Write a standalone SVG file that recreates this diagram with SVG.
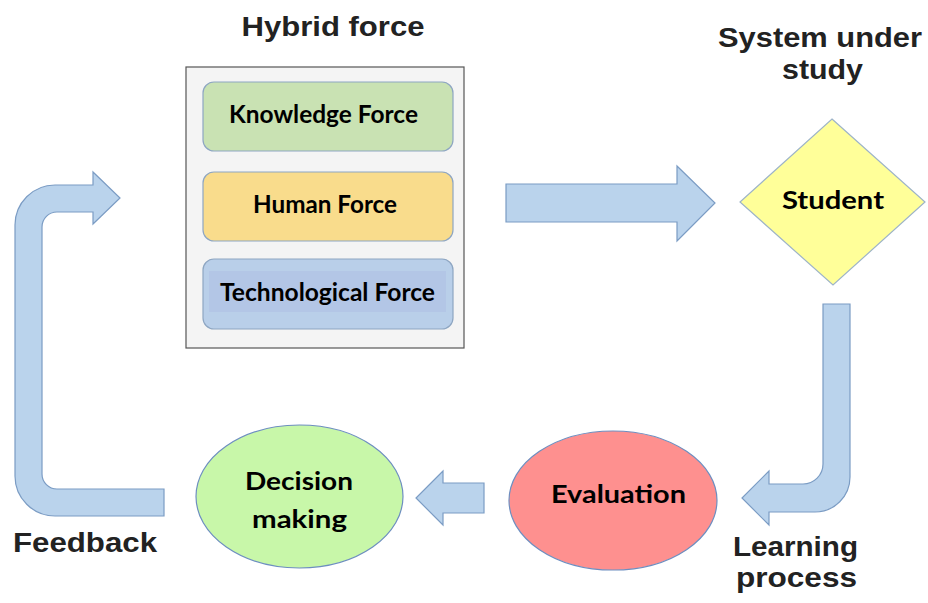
<svg xmlns="http://www.w3.org/2000/svg" width="928" height="603" viewBox="0 0 928 603">
  <style>
    .title { font-family: "Liberation Sans", Arial, sans-serif; font-weight: bold; font-size: 28px; fill: #222222; }
    .label { font-family: Lato, "Open Sans", sans-serif; font-weight: bold; font-size: 25.5px; fill: #000000; }
    .flow { fill: #bad3ec; stroke: #7b9cc4; stroke-width: 1.2; }
    .box { stroke: #8ea6c2; stroke-width: 1.2; }
  </style>

  <rect width="928" height="603" fill="#ffffff"/>

  <!-- Hybrid force group -->
  <g id="hybrid-force">
    <text class="title" x="333" y="36" text-anchor="middle" textLength="183" lengthAdjust="spacingAndGlyphs">Hybrid force</text>
    <rect x="186" y="67" width="278" height="281" fill="#f4f4f4" stroke="#555555" stroke-width="1.2"/>
  </g>
  <g id="knowledge-force">
    <rect class="box" x="203" y="82" width="250" height="69" rx="11" fill="#c9e2b3"/>
    <text class="label" x="323.5" y="123" text-anchor="middle" textLength="189" lengthAdjust="spacingAndGlyphs">Knowledge Force</text>
  </g>
  <g id="human-force">
    <rect class="box" x="203" y="172" width="250" height="69" rx="11" fill="#f9dc8c"/>
    <text class="label" x="325" y="213" text-anchor="middle" textLength="144" lengthAdjust="spacingAndGlyphs">Human Force</text>
  </g>
  <g id="technological-force">
    <rect class="box" x="203" y="259" width="250" height="70" rx="11" fill="#b9cfe9"/>
    <rect x="209" y="271" width="237" height="41" fill="#b3c6e6"/>
    <text class="label" x="327.5" y="301" text-anchor="middle" textLength="215" lengthAdjust="spacingAndGlyphs">Technological Force</text>
  </g>

  <!-- System under study -->
  <g id="student">
    <text class="title" x="820" y="47" text-anchor="middle" textLength="204" lengthAdjust="spacingAndGlyphs">System under</text>
    <text class="title" x="822.5" y="79" text-anchor="middle" textLength="81" lengthAdjust="spacingAndGlyphs">study</text>
    <polygon points="832,119 925,202 833,285 740,202" fill="#ffff99" stroke="#9eb4c8" stroke-width="1.2"/>
    <text class="label" x="833" y="209" text-anchor="middle" textLength="102" lengthAdjust="spacingAndGlyphs">Student</text>
  </g>

  <g id="evaluation">
    <ellipse cx="613" cy="500.5" rx="104" ry="69.5" fill="#fe908f" stroke="#6d8ec0" stroke-width="1.2"/>
    <text class="label" x="618.5" y="503" text-anchor="middle" textLength="135" lengthAdjust="spacingAndGlyphs">Evaluation</text>
  </g>

  <g id="decision-making">
    <ellipse cx="299.5" cy="496.5" rx="103.5" ry="71.5" fill="#c8f7a9" stroke="#6d8ec0" stroke-width="1.2"/>
    <text class="label" x="299" y="490" text-anchor="middle" textLength="108" lengthAdjust="spacingAndGlyphs">Decision</text>
    <text class="label" x="299.5" y="528" text-anchor="middle" textLength="95" lengthAdjust="spacingAndGlyphs">making</text>
  </g>

  <!-- Connector labels -->
  <g id="labels">
    <text class="title" x="795.5" y="556" text-anchor="middle" textLength="125" lengthAdjust="spacingAndGlyphs">Learning</text>
    <text class="title" x="796.5" y="587" text-anchor="middle" textLength="121" lengthAdjust="spacingAndGlyphs">process</text>
    <text class="title" x="85" y="552" text-anchor="middle" textLength="144" lengthAdjust="spacingAndGlyphs">Feedback</text>
  </g>

  <!-- Block arrows between the stages -->
  <g id="connectors">
    <polygon class="flow" points="506,184 677,184 677,166 715,203 677,241 677,222 506,222"/>
    <path class="flow" d="M823,304 L850,304 L850,477 A35,35 0 0 1 815,512 L769,512 L769,525 L742,498 L769,471 L769,484 L803,484 A20,20 0 0 0 823,464 Z"/>
    <polygon class="flow" points="484,483 443,483 443,471 416,498 443,525 443,513 484,513"/>
    <path class="flow" d="M164,516 L55,516 A40,40 0 0 1 15,476 L15,225 A40,40 0 0 1 55,185 L93,185 L93,172 L120,198 L93,224 L93,212 L57,212 A15,15 0 0 0 42,227 L42,474 A15,15 0 0 0 57,489 L164,489 Z"/>
  </g>
</svg>
